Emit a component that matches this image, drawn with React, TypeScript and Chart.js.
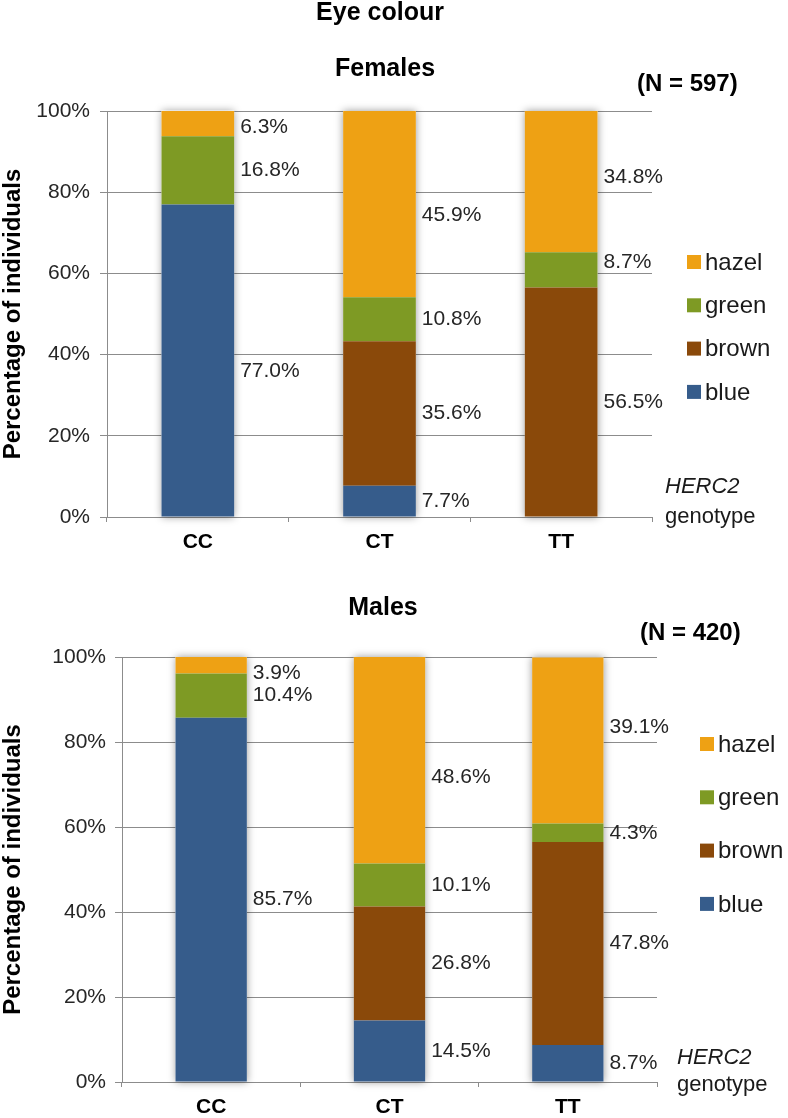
import React, { useEffect, useRef } from 'react';
import { Chart, registerables } from 'chart.js';

Chart.register(...registerables);

// ---- data ----
const categories = ['CC', 'CT', 'TT'];
const seriesNames = ['blue', 'brown', 'green', 'hazel'];
const seriesColors = ['#365c8b', '#8a490a', '#7e9a24', '#eea114'];

const femalesBlue = [77.0, 7.7, 0];
const femalesBrown = [0, 35.6, 56.5];
const femalesGreen = [16.8, 10.8, 8.7];
const femalesHazel = [6.3, 45.9, 34.8];

const malesBlue = [85.7, 14.5, 8.7];
const malesBrown = [0, 26.8, 47.8];
const malesGreen = [10.4, 10.1, 4.3];
const malesHazel = [3.9, 48.6, 39.1];

const yMin = 0;
const yMax = 100;
const yStep = 20;

const FONT = '"Liberation Sans", Arial, Helvetica, sans-serif';

type Spec = {
  top: number;
  height: number;
  values: number[][];
  yAxisWidth: number;
  xAxisHeight: number;
  padTop: number;
  padRight: number;
  tickPad: number;
  labelNudge: Record<string, number>;
  mainTitle?: { text: string; x: number; y: number };
  subTitle: { text: string; x: number; y: number };
  nText: { text: string; x: number; y: number };
  herc: { x: number; y1: number; y2: number };
  legend: { x: number; y0: number; gap: number };
};

const specs: Spec[] = [
  {
    top: 0,
    height: 560,
    values: [femalesBlue, femalesBrown, femalesGreen, femalesHazel],
    yAxisWidth: 107,
    xAxisHeight: 43,
    padTop: 111,
    padRight: 136,
    tickPad: 10,
    labelNudge: { '0-0': 11, '3-0': 4, '3-1': 11, '3-2': -4, '2-2': -8 },
    mainTitle: { text: 'Eye colour', x: 380, y: 13 },
    subTitle: { text: 'Females', x: 385, y: 69 },
    nText: { text: '(N = 597)', x: 637, y: 84 },
    herc: { x: 665, y1: 487, y2: 517 },
    legend: { x: 687, y0: 263, gap: 43.3 },
  },
  {
    top: 560,
    height: 558,
    values: [malesBlue, malesBrown, malesGreen, malesHazel],
    yAxisWidth: 122,
    xAxisHeight: 36,
    padTop: 97,
    padRight: 131,
    tickPad: 9,
    labelNudge: { '3-1': 17, '3-2': -13, '3-0': 4 },
    subTitle: { text: 'Males', x: 383, y: 48 },
    nText: { text: '(N = 420)', x: 640, y: 73 },
    herc: { x: 677, y1: 498, y2: 525 },
    legend: { x: 700, y0: 185, gap: 53.3 },
  },
];

function Panel({ spec }: { spec: Spec }) {
  const ref = useRef<HTMLCanvasElement>(null);

  useEffect(() => {
    const canvas = ref.current;
    if (!canvas) return;

    const decorPlugin = {
      id: 'decor',
      beforeDatasetsDraw(chart: any) {
        const ctx = chart.ctx;
        ctx.save();
        ctx.shadowColor = 'rgba(0,0,0,0.4)';
        ctx.shadowBlur = 8;
        ctx.shadowOffsetX = 0;
        ctx.shadowOffsetY = 0;
        ctx.fillStyle = '#ffffff';
        for (let j = 0; j < categories.length; j++) {
          let topY = Infinity;
          let baseY = -Infinity;
          let x = 0;
          let w = 0;
          chart.data.datasets.forEach((ds: any, i: number) => {
            if (!(ds.data[j] > 0)) return;
            const el = chart.getDatasetMeta(i).data[j];
            const p = el.getProps(['x', 'y', 'base', 'width'], true);
            topY = Math.min(topY, p.y, p.base);
            baseY = Math.max(baseY, p.y, p.base);
            x = p.x;
            w = p.width;
          });
          if (isFinite(topY)) {
            ctx.fillRect(x - w / 2, topY, w, baseY - topY);
          }
        }
        ctx.restore();
      },
      afterDatasetsDraw(chart: any) {
        const ctx = chart.ctx;
        ctx.save();
        ctx.font = `21px ${FONT}`;
        ctx.fillStyle = '#262626';
        ctx.textAlign = 'left';
        ctx.textBaseline = 'middle';
        chart.data.datasets.forEach((ds: any, i: number) => {
          const meta = chart.getDatasetMeta(i);
          ds.data.forEach((v: number, j: number) => {
            if (!(v > 0)) return;
            const p = meta.data[j].getProps(['x', 'y', 'base', 'width'], true);
            const nudge = spec.labelNudge[`${i}-${j}`] || 0;
            const cy = Math.max((p.y + p.base) / 2, chart.chartArea.top + 12) + nudge;
            ctx.fillText(v.toFixed(1) + '%', p.x + p.width / 2 + 6, cy);
          });
        });
        ctx.restore();
      },
      afterDraw(chart: any) {
        const ctx = chart.ctx;
        ctx.save();
        ctx.fillStyle = '#000';
        ctx.textBaseline = 'middle';
        if (spec.mainTitle) {
          ctx.font = `bold 25px ${FONT}`;
          ctx.textAlign = 'center';
          ctx.fillText(spec.mainTitle.text, spec.mainTitle.x, spec.mainTitle.y);
        }
        ctx.font = `bold 25px ${FONT}`;
        ctx.textAlign = 'center';
        ctx.fillText(spec.subTitle.text, spec.subTitle.x, spec.subTitle.y);
        ctx.font = `bold 24px ${FONT}`;
        ctx.textAlign = 'left';
        ctx.fillText(spec.nText.text, spec.nText.x, spec.nText.y);

        ctx.font = `italic 22px ${FONT}`;
        ctx.fillStyle = '#1a1a1a';
        ctx.fillText('HERC2', spec.herc.x, spec.herc.y1);
        ctx.font = `22px ${FONT}`;
        ctx.fillText('genotype', spec.herc.x, spec.herc.y2);

        // legend (reverse order: hazel on top)
        const order = [3, 2, 1, 0];
        order.forEach((di, k) => {
          const y = spec.legend.y0 + k * spec.legend.gap;
          ctx.fillStyle = seriesColors[di];
          ctx.fillRect(spec.legend.x, y - 8, 14, 14);
          ctx.fillStyle = '#1a1a1a';
          ctx.font = `24px ${FONT}`;
          ctx.textAlign = 'left';
          ctx.fillText(seriesNames[di], spec.legend.x + 18, y);
        });
        ctx.restore();
      },
    };

    const chart = new Chart(canvas, {
      type: 'bar',
      data: {
        labels: categories,
        datasets: seriesNames.map((name, i) => ({
          label: name,
          data: spec.values[i],
          backgroundColor: seriesColors[i],
          borderWidth: 0,
          categoryPercentage: 1,
          barPercentage: 0.4,
        })),
      },
      options: {
        responsive: false,
        animation: false,
        layout: {
          padding: { top: spec.padTop, right: spec.padRight, bottom: 0, left: 0 },
        },
        plugins: {
          legend: { display: false },
          tooltip: { enabled: false },
          title: { display: false },
        },
        scales: {
          x: {
            stacked: true,
            offset: true,
            grid: {
              offset: true,
              drawOnChartArea: false,
              drawTicks: true,
              tickLength: 5,
              color: '#8c8c8c',
            },
            border: { display: true, color: '#8c8c8c', width: 1 },
            ticks: {
              color: '#000',
              font: { family: FONT, size: 21, weight: 'bold' },
              padding: 8,
              maxRotation: 0,
            },
            afterFit(scale: any) {
              scale.height = spec.xAxisHeight;
            },
          },
          y: {
            stacked: true,
            min: yMin,
            max: yMax,
            ticks: {
              stepSize: yStep,
              color: '#262626',
              font: { family: FONT, size: 21 },
              padding: spec.tickPad,
              callback: (v: any) => v + '%',
            },
            grid: {
              color: '#8c8c8c',
              lineWidth: 1,
              drawTicks: true,
              tickLength: 7,
            },
            border: { display: true, color: '#8c8c8c', width: 1 },
            title: {
              display: true,
              text: 'Percentage of individuals',
              color: '#000',
              font: { family: FONT, size: 24, weight: 'bold', lineHeight: 1.1 },
              padding: { top: 0, bottom: 0 },
            },
            afterFit(scale: any) {
              scale.width = spec.yAxisWidth;
            },
          },
        },
      } as any,
      plugins: [decorPlugin],
    });

    return () => chart.destroy();
  }, [spec]);

  return (
    <canvas
      ref={ref}
      width={788}
      height={spec.height}
      style={{ position: 'absolute', left: 0, top: spec.top, width: 788, height: spec.height, display: 'block' }}
    />
  );
}

export default function App() {
  return (
    <div style={{ position: 'absolute', left: 0, top: 0, width: 788, height: 1118, background: '#ffffff' }}>
      {specs.map((s, i) => (
        <Panel key={i} spec={s} />
      ))}
    </div>
  );
}
